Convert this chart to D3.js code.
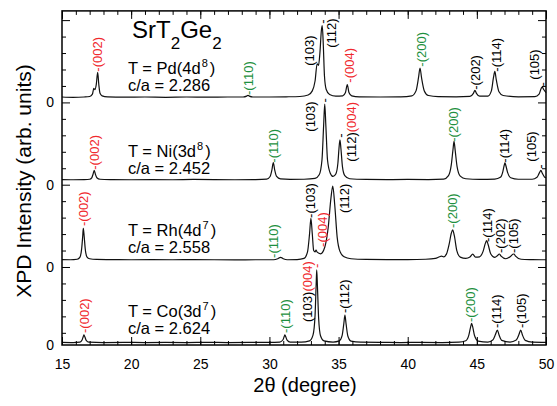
<!DOCTYPE html>
<html><head><meta charset="utf-8">
<script src="https://cdn.jsdelivr.net/npm/d3@7"></script>
<style>body{margin:0;background:#fff}svg{display:block;font-family:"Liberation Sans",Arial,sans-serif}</style>
</head><body><svg id="c" width="557" height="406"></svg>
<script>
// ---------- data ----------
const panelNames = ["Pd","Ni","Rh","Co"];
const panelZero = [14.74, 9.74, 4.74, 0];          // y-axis value of each panel's "0"
const panelTLabel = ["Pd(4d","Ni(3d","Rh(4d","Co(3d"];
const panelTSup = ["8","8","7","7"];
const panelCA = ["2.286","2.452","2.558","2.624"];
const xTickLabels = [15,20,25,30,35,40,45,50];
const xDomain = [15, 50];

// spectra: [2theta, intensity above panel zero]
const specPd = [[15,0.33],[15.8,0.31],[16.6,0.33],[17.0,0.36],[17.2,0.5],[17.3,0.85],[17.38,0.78],[17.48,1.1],[17.58,1.82],[17.66,1.1],[17.75,0.55],[17.9,0.4],[18.3,0.34],[19.5,0.32],[21,0.33],[22.5,0.31],[24,0.33],[25.5,0.32],[27,0.33],[28.1,0.33],[28.35,0.38],[28.45,0.43],[28.55,0.38],[28.8,0.33],[30,0.33],[31.2,0.34],[32.2,0.36],[32.8,0.45],[33.1,0.7],[33.3,1.3],[33.45,2.35],[33.55,2.25],[33.65,3.0],[33.76,4.4],[33.82,4.66],[33.9,3.4],[33.98,1.6],[34.1,0.8],[34.35,0.48],[34.8,0.38],[35.3,0.4],[35.5,0.6],[35.63,1.08],[35.75,0.6],[35.95,0.4],[36.5,0.34],[38,0.33],[39.5,0.34],[40.3,0.4],[40.6,0.7],[40.78,1.5],[40.89,2.09],[41.0,1.5],[41.2,0.7],[41.5,0.42],[42.2,0.35],[43.5,0.34],[44.5,0.37],[44.75,0.55],[44.86,0.73],[44.97,0.55],[45.2,0.38],[45.8,0.38],[46.05,0.7],[46.2,1.5],[46.3,1.88],[46.4,1.4],[46.6,0.65],[46.9,0.42],[48,0.34],[49.2,0.35],[49.5,0.5],[49.65,0.85],[49.73,0.94],[49.82,0.8],[50,0.6]];
const specNi = [[15,0.31],[15.8,0.3],[16.6,0.31],[17.0,0.33],[17.15,0.42],[17.25,0.65],[17.33,0.87],[17.41,0.65],[17.52,0.42],[17.75,0.33],[18.5,0.31],[20,0.3],[21.5,0.31],[23,0.3],[24.5,0.32],[26,0.31],[27.5,0.3],[29,0.31],[29.8,0.34],[30.05,0.5],[30.18,0.9],[30.28,1.35],[30.38,0.9],[30.52,0.5],[30.8,0.35],[31.5,0.32],[32.5,0.33],[33.3,0.38],[33.6,0.6],[33.8,1.5],[33.92,3.6],[34.0,4.9],[34.08,3.6],[34.2,1.5],[34.4,0.7],[34.6,0.5],[34.8,0.65],[34.95,1.3],[35.03,2.2],[35.1,2.73],[35.17,2.2],[35.28,1.1],[35.45,0.55],[35.8,0.36],[37,0.32],[38.5,0.31],[40,0.32],[41.5,0.31],[42.6,0.34],[42.95,0.55],[43.15,1.2],[43.27,2.1],[43.35,2.63],[43.43,2.1],[43.57,1.1],[43.8,0.52],[44.2,0.36],[45.2,0.32],[46.3,0.34],[46.7,0.45],[46.88,0.8],[46.97,1.15],[47.03,1.32],[47.1,1.15],[47.22,0.75],[47.45,0.42],[48,0.33],[49,0.33],[49.35,0.45],[49.52,0.72],[49.63,0.87],[49.73,0.7],[49.88,0.48],[50,0.42]];
const specRh = [[15,0.45],[15.6,0.44],[16.1,0.47],[16.3,0.6],[16.42,1.1],[16.5,1.9],[16.54,2.35],[16.6,1.9],[16.68,1.1],[16.8,0.62],[17.0,0.5],[17.5,0.46],[18.5,0.45],[20,0.44],[21.5,0.45],[23,0.44],[24.5,0.45],[26,0.44],[27.5,0.43],[29,0.44],[30.3,0.44],[30.6,0.5],[30.81,0.59],[31.0,0.5],[31.3,0.44],[32,0.45],[32.5,0.52],[32.75,0.9],[32.9,2.0],[33.0,2.96],[33.1,2.0],[33.2,1.0],[33.3,0.92],[33.37,1.03],[33.45,0.9],[33.7,0.8],[34.0,1.2],[34.25,2.4],[34.45,4.2],[34.58,4.92],[34.72,3.8],[34.9,1.8],[35.1,0.95],[35.4,0.62],[35.9,0.5],[37,0.46],[38.5,0.45],[40,0.45],[41.3,0.47],[42.0,0.52],[42.3,0.62],[42.45,0.66],[42.6,0.62],[42.8,0.78],[43.0,1.4],[43.15,2.05],[43.25,2.25],[43.37,1.9],[43.55,1.0],[43.8,0.6],[44.2,0.52],[44.5,0.6],[44.7,0.78],[44.9,0.6],[45.2,0.62],[45.45,0.95],[45.62,1.45],[45.71,1.6],[45.82,1.35],[46.0,0.8],[46.3,0.58],[46.5,0.7],[46.62,0.79],[46.75,0.66],[47.1,0.5],[47.45,0.65],[47.6,0.77],[47.68,0.79],[47.8,0.66],[48.2,0.47],[49,0.45],[50,0.44]];
const specCo = [[15,0.16],[15.8,0.15],[16.3,0.17],[16.45,0.3],[16.54,0.52],[16.59,0.61],[16.65,0.5],[16.75,0.28],[16.95,0.17],[18,0.15],[19.5,0.16],[21,0.15],[22.5,0.16],[24,0.15],[25.5,0.16],[27,0.15],[28.5,0.16],[30,0.16],[30.75,0.18],[30.98,0.32],[31.07,0.52],[31.12,0.61],[31.18,0.5],[31.28,0.3],[31.5,0.18],[32.3,0.17],[32.9,0.25],[33.15,0.6],[33.3,1.8],[33.38,3.7],[33.42,4.56],[33.47,3.6],[33.56,1.6],[33.7,0.55],[33.95,0.25],[34.6,0.18],[35.05,0.25],[35.25,0.55],[35.38,1.3],[35.46,1.82],[35.54,1.3],[35.67,0.55],[35.9,0.24],[36.6,0.17],[38,0.16],[39.5,0.15],[41,0.16],[42.5,0.15],[43.7,0.17],[44.2,0.26],[44.42,0.6],[44.55,1.1],[44.62,1.32],[44.7,1.1],[44.83,0.58],[45.1,0.24],[45.8,0.18],[46.15,0.3],[46.35,0.65],[46.48,0.91],[46.6,0.62],[46.8,0.28],[47.4,0.18],[47.85,0.3],[48.05,0.65],[48.17,0.91],[48.29,0.62],[48.5,0.28],[49,0.17],[50,0.16]];
const spectra = [specPd, specNi, specRh, specCo];

// peak annotations: panel, 2theta, intensity at text start, text parts [text, colour key]
const peakLabels = [
  [0,17.53,1.87,[["-(002)","r"]]],
  [0,28.45,0.45,[["-(110)","g"]]],
  [0,32.86,2.23,[["(103)","k"]]],
  [0,33.82,4.78,[["-","k"]]],
  [0,34.52,3.32,[["(112)","k"]]],
  [0,35.75,1.2,[["-(004)","r"]]],
  [0,40.96,2.17,[["-(200)","g"]]],
  [0,44.93,0.77,[["-(202)","k"]]],
  [0,46.38,1.87,[["-(114)","k"]]],
  [0,49.2,1.38,[["(105)","k"]]],
  [0,49.75,0.97,[["-","k"]]],
  [1,17.31,0.91,[["-(002)","r"]]],
  [1,30.29,1.34,[["-(110)","g"]]],
  [1,32.93,3.22,[["(103)","k"]]],
  [1,34.0,5.0,[["-","k"]]],
  [1,35.9,1.4,[["(112)","k"],["(004)","r"]]],
  [1,35.1,2.86,[["-","k"]]],
  [1,43.34,2.61,[["-(200)","g"]]],
  [1,47.03,1.34,[["-(114)","k"]]],
  [1,48.98,1.4,[["(105)","k"]]],
  [1,49.63,0.97,[["-","k"]]],
  [2,16.52,2.49,[["-(002)","r"]]],
  [2,30.29,0.55,[["-(110)","g"]]],
  [2,32.93,2.98,[["-(103)","k"]]],
  [2,33.8,1.22,[["-(004)","r"]]],
  [2,35.46,3.28,[["(112)","k"]]],
  [2,43.2,2.37,[["-(200)","g"]]],
  [2,45.73,1.52,[["-(114)","k"]]],
  [2,46.67,0.85,[["-(202)","k"]]],
  [2,47.68,0.85,[["-(105)","k"]]],
  [3,16.59,0.73,[["-(002)","r"]]],
  [3,31.16,0.73,[["-(110)","g"]]],
  [3,32.75,1.4,[["(103)","k"],["(004)","r"]]],
  [3,33.42,4.68,[["-","r"]]],
  [3,35.39,1.94,[["-(112)","k"]]],
  [3,44.57,1.4,[["-(200)","g"]]],
  [3,46.45,1.03,[["-(114)","k"]]],
  [3,48.19,1.03,[["-(105)","k"]]]
];
const labelColors = {r:"#f0282d", g:"#1e9040", k:"#000"};

// ---------- drawing ----------
const svg = d3.select("#c");
const L = 62, R = 546, T = 10.9, B = 345;
const x = d3.scaleLinear().domain(xDomain).range([L, R]);
const y = d3.scaleLinear().domain([0, 20.3]).range([B, T]);

// spectra
const line = d3.line().x(d => x(d[0])).y(d => y(d[1])).curve(d3.curveMonotoneX);
spectra.forEach((s, i) => {
  const off = panelZero[i];
  svg.append("path")
    .datum(s.map(d => [d[0], d[1] + off]))
    .attr("d", line).attr("fill", "none").attr("stroke", "#111").attr("stroke-width", 1.2)
    .attr("stroke-linejoin", "round");
});

// axes
const ax = svg.append("g");
const xMinor = d3.range(15, 51, 1);
ax.append("g").attr("transform", `translate(0,${B})`)
  .call(d3.axisBottom(x).tickValues(xMinor).tickSize(-4).tickFormat(""));
ax.append("g").attr("transform", `translate(0,${B})`)
  .call(d3.axisBottom(x).tickValues(xTickLabels).tickSize(-8).tickPadding(14).tickFormat(d3.format("d")));
ax.append("g").attr("transform", `translate(0,${T})`)
  .call(d3.axisTop(x).tickValues(xMinor).tickSize(-4).tickFormat(""));
ax.append("g").attr("transform", `translate(0,${T})`)
  .call(d3.axisTop(x).tickValues(xTickLabels).tickSize(-8).tickFormat(""));

const yTicks = d3.range(0, 20).map(k => 0.74 + k);
const yMinor = yTicks.filter((v, k) => k % 5 !== 4);
const yMajor = yTicks.filter((v, k) => k % 5 === 4);
ax.append("g").attr("transform", `translate(${L},0)`)
  .call(d3.axisLeft(y).tickValues(yMinor).tickSize(-4).tickFormat(""));
ax.append("g").attr("transform", `translate(${L},0)`)
  .call(d3.axisLeft(y).tickValues(yMajor).tickSize(-8).tickFormat(""));
ax.append("g").attr("transform", `translate(${L},0)`)
  .call(d3.axisLeft(y).tickValues(panelZero).tickSize(0).tickPadding(8).tickFormat(() => "0"));
ax.append("g").attr("transform", `translate(${R},0)`)
  .call(d3.axisRight(y).tickValues(yMinor).tickSize(-4).tickFormat(""));
ax.append("g").attr("transform", `translate(${R},0)`)
  .call(d3.axisRight(y).tickValues(yMajor).tickSize(-8).tickFormat(""));

ax.selectAll(".domain").remove();
ax.selectAll(".tick line").attr("stroke", "#000").attr("stroke-width", 1);
ax.selectAll(".tick text").attr("font-size", 14).attr("fill", "#000")
  .attr("font-family", "'Liberation Sans',Arial,sans-serif");

svg.append("rect").attr("x", L).attr("y", T).attr("width", R - L).attr("height", B - T)
  .attr("fill", "none").attr("stroke", "#000").attr("stroke-width", 1.5);

// peak labels
peakLabels.forEach(([p, xv, yv, parts]) => {
  const px = x(xv), py = y(yv + panelZero[p]);
  const t = svg.append("text")
    .attr("transform", `translate(${px},${py}) rotate(-90)`)
    .attr("dy", "0.35em").attr("font-size", 13);
  parts.forEach(([s, c]) => t.append("tspan").text(s).attr("fill", labelColors[c]));
});

// panel texts
const tY = [74, 157, 236, 317];
const cY = [91, 174, 253, 334];
panelNames.forEach((n, i) => {
  const t = svg.append("text").attr("x", 128).attr("y", tY[i]).attr("font-size", 16.5);
  t.append("tspan").text("T = " + panelTLabel[i]);
  t.append("tspan").text(panelTSup[i]).attr("font-size", 11).attr("dx", 1).attr("dy", -7);
  t.append("tspan").text(")").attr("dx", 2).attr("dy", 7);
  svg.append("text").attr("x", 128).attr("y", cY[i]).attr("font-size", 16.5).text("c/a = " + panelCA[i]);
});

// title
const ti = svg.append("text").attr("x", 132).attr("y", 38).attr("font-size", 24);
ti.append("tspan").text("SrT");
ti.append("tspan").text("2").attr("font-size", 17).attr("dy", 11);
ti.append("tspan").text("Ge").attr("dy", -11);
ti.append("tspan").text("2").attr("font-size", 17).attr("dy", 11);

// axis titles
svg.append("text").attr("x", 305).attr("y", 392).attr("text-anchor", "middle").attr("font-size", 20)
  .text("2θ (degree)");
svg.append("text").attr("transform", "translate(31,181) rotate(-90)").attr("text-anchor", "middle")
  .attr("font-size", 21).text("XPD Intensity (arb. units)");
</script></body></html>
